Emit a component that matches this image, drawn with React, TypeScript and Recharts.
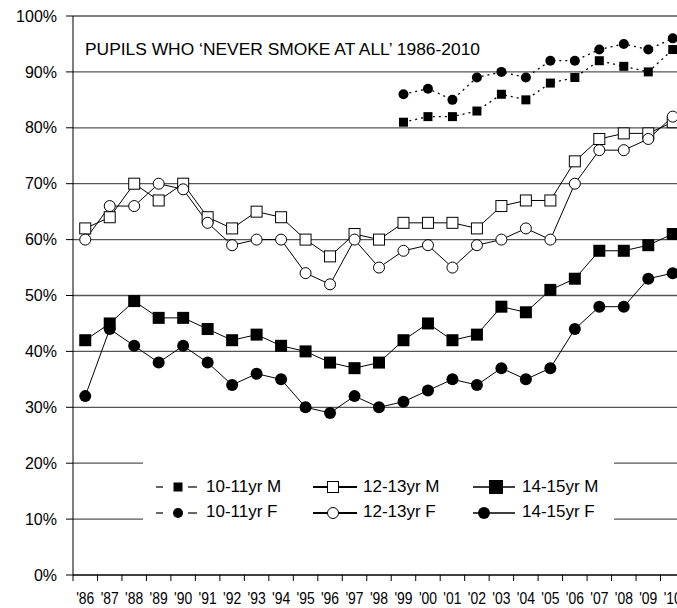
import { LineChart, Line, XAxis, YAxis, CartesianGrid, Legend } from "recharts"

const years = [
  "'86", "'87", "'88", "'89", "'90", "'91", "'92", "'93", "'94", "'95", "'96", "'97", "'98",
  "'99", "'00", "'01", "'02", "'03", "'04", "'05", "'06", "'07", "'08", "'09", "'10",
]

// 10-11yr survey only starts in '99
const m1011 = [
  null, null, null, null, null, null, null, null, null, null, null, null, null,
  81, 82, 82, 83, 86, 85, 88, 89, 92, 91, 90, 94,
]
const f1011 = [
  null, null, null, null, null, null, null, null, null, null, null, null, null,
  86, 87, 85, 89, 90, 89, 92, 92, 94, 95, 94, 96,
]
const m1213 = [62, 64, 70, 67, 70, 64, 62, 65, 64, 60, 57, 61, 60, 63, 63, 63, 62, 66, 67, 67, 74, 78, 79, 79, 81]
const f1213 = [60, 66, 66, 70, 69, 63, 59, 60, 60, 54, 52, 60, 55, 58, 59, 55, 59, 60, 62, 60, 70, 76, 76, 78, 82]
const m1415 = [42, 45, 49, 46, 46, 44, 42, 43, 41, 40, 38, 37, 38, 42, 45, 42, 43, 48, 47, 51, 53, 58, 58, 59, 61]
const f1415 = [32, 44, 41, 38, 41, 38, 34, 36, 35, 30, 29, 32, 30, 31, 33, 35, 34, 37, 35, 37, 44, 48, 48, 53, 54]

const yTicks = [0, 10, 20, 30, 40, 50, 60, 70, 80, 90, 100]

const data = years.map((year, i) => ({
  year,
  m1011: m1011[i],
  f1011: f1011[i],
  m1213: m1213[i],
  f1213: f1213[i],
  m1415: m1415[i],
  f1415: f1415[i],
}))

const FONT = "'Liberation Sans', Arial, sans-serif"

const CHART_W = 700
const CHART_H = 608
const MARGIN_RIGHT = 15
const Y_AXIS_W = 73
const HALF_BAND = (CHART_W - MARGIN_RIGHT - Y_AXIS_W) / years.length / 2

type MarkerKind = "smallSquare" | "smallCircle" | "openSquare" | "openCircle" | "bigSquare" | "bigCircle"

const series: { key: string; name: string; marker: MarkerKind; dashed: boolean }[] = [
  { key: "m1011", name: "10-11yr M", marker: "smallSquare", dashed: true },
  { key: "f1011", name: "10-11yr F", marker: "smallCircle", dashed: true },
  { key: "m1213", name: "12-13yr M", marker: "openSquare", dashed: false },
  { key: "f1213", name: "12-13yr F", marker: "openCircle", dashed: false },
  { key: "m1415", name: "14-15yr M", marker: "bigSquare", dashed: false },
  { key: "f1415", name: "14-15yr F", marker: "bigCircle", dashed: false },
]

function Marker({ kind, x, y }: { kind: MarkerKind; x: number; y: number }) {
  switch (kind) {
    case "smallSquare":
      return <rect x={x - 4.5} y={y - 4.5} width={9} height={9} fill="#000" />
    case "smallCircle":
      return <circle cx={x} cy={y} r={5} fill="#000" />
    case "openSquare":
      return <rect x={x - 5.5} y={y - 5.5} width={11} height={11} fill="#fff" stroke="#000" strokeWidth={1} />
    case "openCircle":
      return <circle cx={x} cy={y} r={5.5} fill="#fff" stroke="#000" strokeWidth={1} />
    case "bigSquare":
      return <rect x={x - 6} y={y - 6} width={12} height={12} fill="#000" />
    default:
      return <circle cx={x} cy={y} r={6} fill="#000" />
  }
}

const makeDot = (kind: MarkerKind) => (props: any) => {
  const { cx, cy, index, value } = props
  if (cx == null || cy == null || value == null) return <g key={`e-${index}`} />
  return (
    <g key={`d-${index}`}>
      <Marker kind={kind} x={cx} y={cy} />
    </g>
  )
}

function XTick(props: any) {
  const { x, y, payload, index } = props
  const last = index === years.length - 1
  return (
    <g>
      <line x1={x - HALF_BAND} x2={x - HALF_BAND} y1={y} y2={y + 6} stroke="#000" />
      {last && <line x1={x + HALF_BAND} x2={x + HALF_BAND} y1={y} y2={y + 6} stroke="#000" />}
      {/* the original labels are set in a condensed face */}
      <text
        transform={`translate(${x},${y + 29}) scale(0.82,1)`}
        textAnchor="middle"
        fontSize={17}
        fontFamily={FONT}
        fill="#000"
      >
        {payload.value}
      </text>
    </g>
  )
}

function ChartLegend() {
  const rowY = [32, 58]
  const textY = [37, 62]
  const label = (txt: string, x: number, y: number) => (
    <text x={x} y={y} fontSize={17} fontFamily={FONT} fill="#000">
      {txt}
    </text>
  )
  return (
    <svg width={471} height={75} style={{ display: "block" }}>
      {[0, 1].map((r) => (
        <g key={`a${r}`}>
          <line x1={13} x2={20} y1={rowY[r]} y2={rowY[r]} stroke="#000" strokeWidth={1.2} />
          <line x1={45} x2={54} y1={rowY[r]} y2={rowY[r]} stroke="#000" strokeWidth={1.2} />
          <Marker kind={series[r].marker} x={35} y={rowY[r]} />
          {label(series[r].name, 63, textY[r])}
        </g>
      ))}
      {[0, 1].map((r) => (
        <g key={`b${r}`}>
          <line x1={170} x2={214} y1={rowY[r]} y2={rowY[r]} stroke="#000" strokeWidth={2} />
          <Marker kind={series[2 + r].marker} x={190} y={rowY[r]} />
          {label(series[2 + r].name, 220, textY[r])}
        </g>
      ))}
      {[0, 1].map((r) => (
        <g key={`c${r}`}>
          <line x1={330} x2={372} y1={rowY[r]} y2={rowY[r]} stroke="#000" strokeWidth={1.5} />
          {r === 0 ? (
            <rect x={346} y={rowY[r] - 7} width={14} height={14} fill="#000" />
          ) : (
            <Marker kind={series[5].marker} x={341} y={rowY[r]} />
          )}
          {label(series[4 + r].name, 379, textY[r])}
        </g>
      ))}
    </svg>
  )
}

export default function App() {
  return (
    <div
      style={{
        position: "fixed",
        left: 0,
        top: 0,
        width: 677,
        height: 608,
        overflow: "hidden",
        background: "#fff",
        fontFamily: FONT,
      }}
    >
      <LineChart
        width={CHART_W}
        height={CHART_H}
        data={data}
        margin={{ top: 16, right: MARGIN_RIGHT, left: 0, bottom: 0 }}
      >
        <CartesianGrid vertical={false} stroke="#555" strokeWidth={1.3} />
        <XAxis
          dataKey="year"
          interval={0}
          padding={{ left: HALF_BAND, right: HALF_BAND }}
          axisLine={{ stroke: "#000" }}
          tickLine={false}
          tickSize={0}
          tickMargin={0}
          height={33}
          tick={<XTick />}
        />
        <YAxis
          width={Y_AXIS_W}
          domain={[0, 100]}
          ticks={yTicks}
          interval={0}
          tickFormatter={(v: number) => `${v}%`}
          axisLine={{ stroke: "#000" }}
          tickLine={{ stroke: "#000" }}
          tickSize={7}
          tickMargin={9}
          tick={{ fill: "#000", fontSize: 16, fontFamily: FONT }}
        />
        <Legend
          layout="vertical"
          align="center"
          verticalAlign="middle"
          content={() => <ChartLegend />}
          wrapperStyle={{ position: "absolute", left: 143, top: 455, width: 471, height: 75, background: "#fff" }}
        />
        {series.map((s) => (
          <Line
            key={s.key}
            type="linear"
            dataKey={s.key}
            name={s.name}
            stroke="#000"
            strokeWidth={s.dashed ? 1.3 : 1}
            strokeDasharray={s.dashed ? "2 4" : undefined}
            dot={makeDot(s.marker)}
            activeDot={false}
            connectNulls={false}
            isAnimationActive={false}
          />
        ))}
      </LineChart>
      <svg
        width={677}
        height={608}
        style={{ position: "absolute", left: 0, top: 0, pointerEvents: "none" }}
      >
        <text x={85} y={55} fontSize={17.4} fontFamily={FONT} fill="#000">
          PUPILS WHO ‘NEVER SMOKE AT ALL’ 1986-2010
        </text>
      </svg>
    </div>
  )
}
